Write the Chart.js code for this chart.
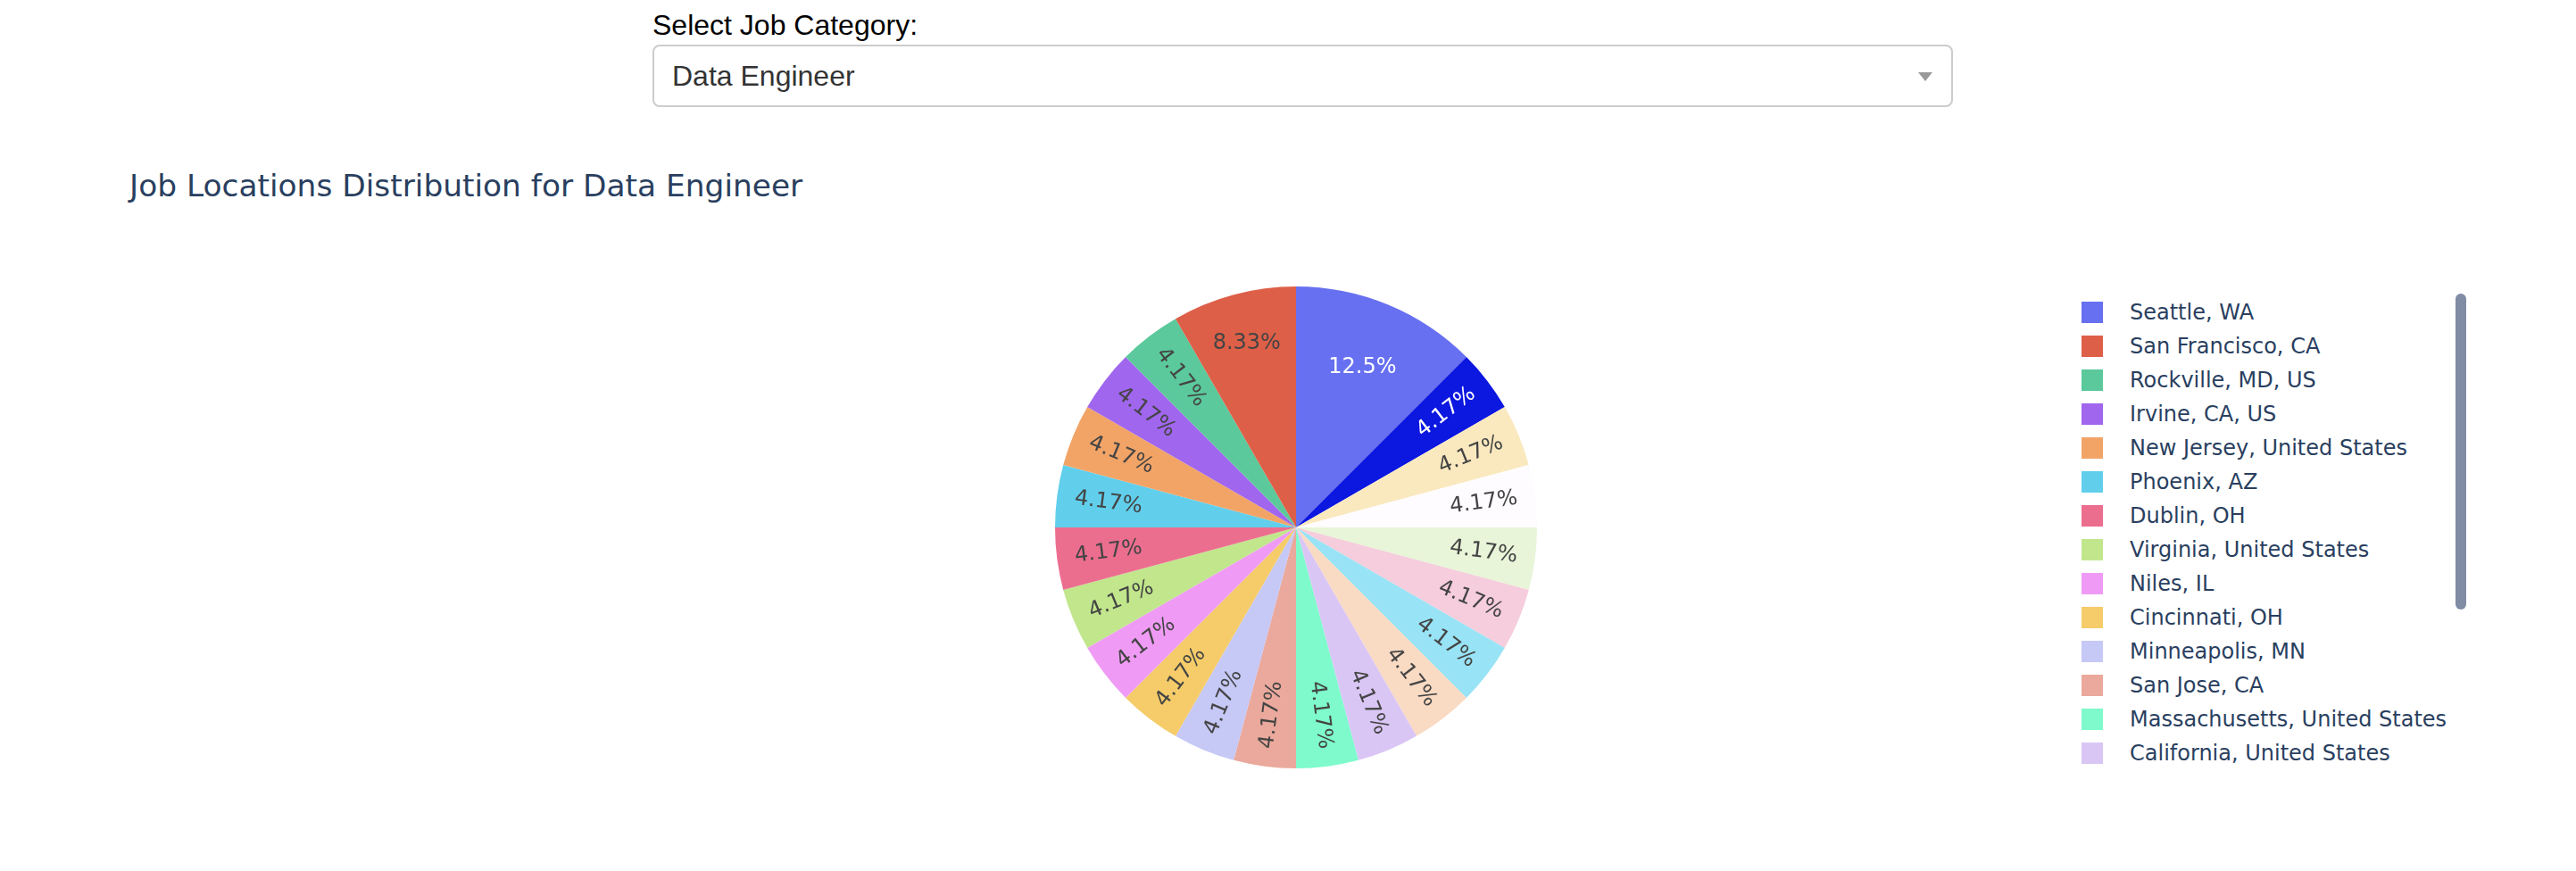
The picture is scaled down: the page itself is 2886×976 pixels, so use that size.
<!DOCTYPE html>
<html>
<head>
<meta charset="utf-8">
<script src="https://cdn.jsdelivr.net/npm/chart.js@4/dist/chart.umd.min.js"></script>
<style>
  html, body { margin: 0; padding: 0; background: #fff; }
  body { width: 2886px; height: 976px; position: relative; overflow: hidden; }
  .lbl { position: absolute; left: 731px; top: 12px; font: 32px "Liberation Sans", Arial, sans-serif; color: #000; line-height: 32px; }
  .dd { position: absolute; left: 731px; top: 50px; width: 1457px; height: 70px; box-sizing: border-box;
        border: 2px solid #ccc; border-radius: 8px; background: #fff; }
  .dd span { position: absolute; left: 20px; top: 0; font: 32px "Liberation Sans", Arial, sans-serif; line-height: 66px; color: #333; }
  .dd i { position: absolute; left: 1416px; top: 29px; width: 0; height: 0;
          border-style: solid; border-width: 10px 8px 0 8px; border-color: #999 transparent transparent transparent; }
  .title { position: absolute; left: 145px; top: 191px; font: 34.4px "DejaVu Sans", Verdana, sans-serif; color: #2a3f5f; line-height: 34px; white-space: nowrap; }
  #pieBox { position: absolute; left: 1182px; top: 321px; width: 540px; height: 540px; }
  #legend { position: absolute; left: 2320px; top: 331px; width: 420px; height: 532px; overflow: hidden; }
  .item { height: 38px; position: relative; font: 24px "DejaVu Sans", Verdana, sans-serif; color: #2a3f5f; white-space: nowrap; }
  .item b { position: absolute; left: 12px; top: 7px; width: 24px; height: 24px; }
  .item span { position: absolute; left: 66px; top: 0; line-height: 38px; }
  .scroll { position: absolute; left: 2751px; top: 329px; width: 12px; height: 354px; background: #808ba4; border-radius: 6px; }
</style>
</head>
<body>
<div class="lbl">Select Job Category:</div>
<div class="dd"><span>Data Engineer</span><i></i></div>
<div class="title">Job Locations Distribution for Data Engineer</div>
<div id="pieBox"><canvas id="chart" width="540" height="540"></canvas></div>
<div id="legend"></div>
<div class="scroll"></div>
<script>
// job locations for "Data Engineer", in legend order (largest first)
const locations = [
  'Seattle, WA', 'San Francisco, CA', 'Rockville, MD, US', 'Irvine, CA, US',
  'New Jersey, United States', 'Phoenix, AZ', 'Dublin, OH', 'Virginia, United States',
  'Niles, IL', 'Cincinnati, OH', 'Minneapolis, MN', 'San Jose, CA',
  'Massachusetts, United States', 'California, United States',
  'New York, NY', 'Austin, TX', 'Chicago, IL', 'Denver, CO', 'Atlanta, GA', 'Remote', 'Dallas, TX'
];
const jobCounts = [3, 2, 1, 1, 1, 1, 1, 1, 1, 1, 1, 1, 1, 1, 1, 1, 1, 1, 1, 1, 1];
const sliceColors = [
  '#6670f0', '#de5f48', '#5bc99b', '#a066ee', '#f2a467', '#61cfec', '#ec6e8f', '#c1e68c',
  '#ef9bf5', '#f5cc69', '#c6c8f6', '#eaa99c', '#7efacc', '#dac6f5', '#f9dac3', '#98e3f5',
  '#f5cddc', '#e8f5d8', '#fffcff', '#fae9bf', '#0c17e0'
];

// plotly goes counterclockwise with the first slice ending at 12 o'clock;
// chart.js goes clockwise, so keep the first one and reverse the rest
const order = [0];
for (let i = locations.length - 1; i > 0; i--) order.push(i);

const total = jobCounts.reduce((a, b) => a + b, 0);

function isDark(hex) {
  const r = parseInt(hex.slice(1, 3), 16), g = parseInt(hex.slice(3, 5), 16), b = parseInt(hex.slice(5, 7), 16);
  return (r * 299 + g * 587 + b * 114) / 1000 < 128;
}

const sliceText = {
  id: 'sliceText',
  afterDatasetsDraw(chart) {
    const ctx = chart.ctx;
    const meta = chart.getDatasetMeta(0);
    const ds = chart.data.datasets[0];
    meta.data.forEach((arc, i) => {
      const p = arc.getProps(['x', 'y', 'startAngle', 'endAngle', 'outerRadius'], true);
      const span = p.endAngle - p.startAngle;
      const mid = (p.startAngle + p.endAngle) / 2;
      const v = ds.data[i];
      const txt = parseFloat((v / total * 100).toPrecision(3)) + '%';
      ctx.save();
      ctx.font = '24px "DejaVu Sans", Verdana, sans-serif';
      ctx.fillStyle = isDark(ds.backgroundColor[i]) ? '#fff' : '#444';
      ctx.textAlign = 'center';
      ctx.textBaseline = 'middle';
      if (span > 0.5) {
        const r = p.outerRadius * (span > 0.7 ? 0.72 : 0.79);
        ctx.fillText(txt, p.x + r * Math.cos(mid), p.y + r * Math.sin(mid));
      } else {
        const r = p.outerRadius * 0.785;
        let rot = Math.atan2(Math.sin(mid), Math.cos(mid));
        if (rot > Math.PI / 2) rot -= Math.PI;
        if (rot < -Math.PI / 2) rot += Math.PI;
        ctx.translate(p.x + r * Math.cos(mid), p.y + r * Math.sin(mid));
        ctx.rotate(rot);
        ctx.fillText(txt, 0, 0);
      }
      ctx.restore();
    });
  }
};

new Chart('chart', {
  type: 'pie',
  data: {
    labels: order.map(i => locations[i]),
    datasets: [{
      data: order.map(i => jobCounts[i]),
      backgroundColor: order.map(i => sliceColors[i]),
      borderWidth: 0
    }]
  },
  options: {
    responsive: false,
    animation: false,
    plugins: { legend: { display: false }, tooltip: { enabled: false } }
  },
  plugins: [sliceText]
});

// legend, same look as the plotly one (scrolled to the top)
const legend = document.getElementById('legend');
locations.forEach((name, i) => {
  const row = document.createElement('div');
  row.className = 'item';
  row.innerHTML = '<b style="background:' + sliceColors[i] + '"></b><span></span>';
  row.querySelector('span').textContent = name;
  legend.appendChild(row);
});
</script>
</body>
</html>
